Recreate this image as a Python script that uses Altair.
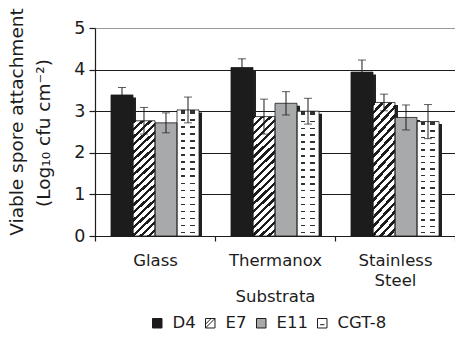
import altair as alt
import pandas as pd

# Mean viable spore attachment (log10 cfu cm^-2) and error per strain on each substratum
substrates = ["Glass", "Thermanox", "Stainless Steel"]
strains = ["D4", "E7", "E11", "CGT-8"]
d4 = [3.39, 4.05, 3.94]
e7 = [2.77, 2.87, 3.21]
e11 = [2.72, 3.19, 2.85]
cgt8 = [3.03, 3.00, 2.75]
d4_err = [0.18, 0.21, 0.29]
e7_err = [0.32, 0.42, 0.20]
e11_err = [0.24, 0.28, 0.30]
cgt8_err = [0.31, 0.31, 0.41]
y_title = ["Viable spore attachment", "(Log₁₀ cfu cm⁻²)"]

means = {"D4": d4, "E7": e7, "E11": e11, "CGT-8": cgt8}
errs = {"D4": d4_err, "E7": e7_err, "E11": e11_err, "CGT-8": cgt8_err}

rows = []
for s in strains:
    for i, sub in enumerate(substrates):
        m, e = means[s][i], errs[s][i]
        rows.append({"substrate": sub, "strain": s, "value": m, "lo": m - e, "hi": m + e})
df = pd.DataFrame(rows)

FONT = "DejaVu Sans"
INK = "#1c1c1c"
GREY = "#a8a9ab"


def banded(n, frac, ink, paper):
    """Hard-edged repeating stops for a striped linear gradient."""
    stops = []
    for k in range(n):
        a = k / n
        b = (k + frac) / n
        c = (k + 1) / n
        stops += [
            {"offset": round(a, 5), "color": ink},
            {"offset": round(b, 5), "color": ink},
            {"offset": round(b, 5), "color": paper},
            {"offset": round(c, 5), "color": paper},
        ]
    return stops


hatch = {"gradient": "linear", "x1": 0, "y1": 0, "x2": 0.204, "y2": 1.142,
         "stops": banded(18, 0.42, INK, "#ffffff")}
dash_rows = {"gradient": "linear", "x1": 0, "y1": 0.02, "x2": 0, "y2": 1.02,
             "stops": banded(18, 0.22, "#333333", "#ffffff")}
CLEAR = "rgba(255,255,255,0)"
dash_gaps = {"gradient": "linear", "x1": 0, "y1": 0, "x2": 1, "y2": 0,
             "stops": [
                 {"offset": 0.0, "color": "#ffffff"}, {"offset": 0.17, "color": "#ffffff"},
                 {"offset": 0.17, "color": CLEAR}, {"offset": 0.38, "color": CLEAR},
                 {"offset": 0.38, "color": "#ffffff"}, {"offset": 0.60, "color": "#ffffff"},
                 {"offset": 0.60, "color": CLEAR}, {"offset": 0.81, "color": CLEAR},
                 {"offset": 0.81, "color": "#ffffff"}, {"offset": 1.0, "color": "#ffffff"},
             ]}

PAD_OUT = 0.727
x_enc = alt.X(
    "substrate:N",
    sort=substrates,
    scale=alt.Scale(paddingInner=0, paddingOuter=0),
    axis=alt.Axis(
        title="Substrata",
        labelAngle=0,
        labelExpr="split(datum.label, ' ')",
        labelLineHeight=20,
        labelFontSize=16.5,
        labelPadding=11,
        tickBand="extent",
        tickSize=5,
        titleFontSize=16.5,
        titleFontWeight="normal",
        titlePadding=0,
        domainColor=INK,
        tickColor=INK,
        domainWidth=1.2,
        tickWidth=1.2,
        labelColor=INK,
        titleColor=INK,
        grid=False,
    ),
)
y_scale = alt.Scale(domain=[0, 5], nice=False, zero=True)
y_axis = alt.Axis(
    title=None,
    values=[0, 1, 2, 3, 4, 5],
    labelFontSize=17.5,
    labelPadding=4,
    tickSize=6,
    tickColor=INK,
    domainColor=INK,
    domainWidth=1.2,
    tickWidth=1.2,
    labelColor=INK,
    grid=True,
    gridColor={"condition": {"test": "datum.value === 5", "value": "#9a9a9a"}, "value": INK},
    gridWidth=1,
)


def off(rng=None):
    kw = dict(domain=strains, paddingOuter=PAD_OUT, paddingInner=0)
    if rng is not None:
        kw["range"] = rng
    return alt.XOffset("strain:N", sort=strains, scale=alt.Scale(**kw))


base = alt.Chart(df)
Y = alt.Y("value:Q", scale=y_scale, axis=y_axis)


def only(name):
    return base.transform_filter(alt.datum.strain == name)


shadow = base.mark_bar(color="#222222", yOffset=2.5, clip=True).encode(
    x=x_enc, xOffset=off([3, 123]), y=Y
)
d4_bars = only("D4").mark_bar(fill=INK).encode(x=x_enc, xOffset=off(), y=Y)
e7_bars = only("E7").mark_bar(fill=hatch).encode(x=x_enc, xOffset=off(), y=Y)
e11_bars = only("E11").mark_bar(fill=GREY).encode(x=x_enc, xOffset=off(), y=Y)
cgt_rows = only("CGT-8").mark_bar(fill=dash_rows).encode(x=x_enc, xOffset=off(), y=Y)
cgt_gaps = only("CGT-8").mark_bar(fill=dash_gaps).encode(x=x_enc, xOffset=off(), y=Y)
outline = base.mark_bar(fill="transparent", stroke=INK, strokeWidth=0.8).encode(
    x=x_enc, xOffset=off(), y=Y
)
err_rule = base.mark_rule(color=INK, strokeWidth=1).encode(
    x=x_enc, xOffset=off(), y=alt.Y("lo:Q", scale=y_scale), y2="hi:Q"
)
cap_hi = base.mark_tick(color=INK, size=8, thickness=1, orient="horizontal").encode(
    x=x_enc, xOffset=off(), y=alt.Y("hi:Q", scale=y_scale)
)
cap_lo = base.mark_tick(color=INK, size=8, thickness=1, orient="horizontal").encode(
    x=x_enc, xOffset=off(), y=alt.Y("lo:Q", scale=y_scale)
)

# Rotated y-axis title, one text mark per line
one = pd.DataFrame({"t": [0]})
y_line1 = alt.Chart(one).mark_text(
    text=y_title[0], angle=270, align="center", baseline="middle",
    fontSize=18.5, font=FONT, color=INK,
).encode(x=alt.value(-78), y=alt.value(94))
y_line2 = alt.Chart(one).mark_text(
    text=y_title[1], angle=270, align="center", baseline="middle",
    fontSize=18.5, font=FONT, color=INK,
).encode(x=alt.value(-51), y=alt.value(105))

# Legend keys: square swatches drawn as custom symbol paths (points kept out of view)
sq = "M-1,-1L1,-1L1,1L-1,1Z"
key_shapes = [sq, sq + " M-1,1L1,-1 M-1,0.2L0.2,-1", sq, sq + " M-0.45,0.3L0.45,0.3"]
keys = base.mark_point(filled=True, opacity=1, stroke=INK, strokeWidth=1, size=90,
                       clip=True, yOffset=2000).encode(
    x=x_enc,
    y=alt.Y("value:Q", scale=y_scale),
    fill=alt.Fill("strain:N", scale=alt.Scale(domain=strains, range=[INK, "#ffffff", GREY, "#ffffff"]),
                  legend=alt.Legend(title=None, orient="none", direction="horizontal",
                                    legendX=54, legendY=287, gridAlign="none",
                                    labelFontSize=16.5, labelColor=INK, labelFont=FONT,
                                    symbolSize=90, symbolStrokeColor=INK, symbolStrokeWidth=1,
                                    labelOffset=7, columnPadding=6, symbolOpacity=1)),
    shape=alt.Shape("strain:N", scale=alt.Scale(domain=strains, range=key_shapes)),
)

chart = (
    alt.layer(shadow, d4_bars, e7_bars, e11_bars, cgt_rows, cgt_gaps, outline,
              err_rule, cap_hi, cap_lo, keys, y_line1, y_line2)
    .resolve_scale(xOffset="independent")
    .properties(
        width=360,
        height=208,
        autosize=alt.AutoSizeParams(type="none"),
        padding={"left": 95, "top": 28, "right": 0, "bottom": 103},
    )
    .configure(font=FONT)
    .configure_view(stroke=None)
)

chart.save("out.html", embed_options={"renderer": "svg", "actions": False})
